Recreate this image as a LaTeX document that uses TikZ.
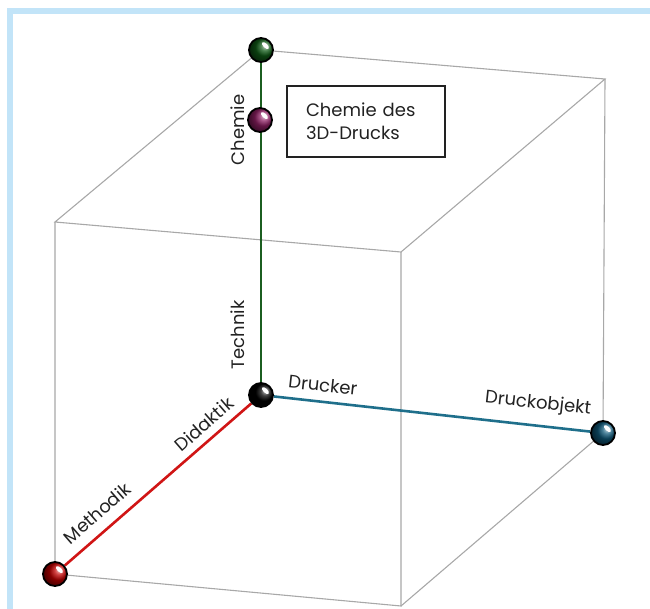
\documentclass[tikz,border=0pt]{standalone}
\usepackage{fontspec}
\setmainfont{Poppins}
\usetikzlibrary{backgrounds}
\definecolor{cubegray}{HTML}{A8A8A8}
\definecolor{framebl}{HTML}{C2E4F8}
\definecolor{axgreen}{HTML}{1B5E20}
\definecolor{axred}{HTML}{D01515}
\definecolor{axblue}{HTML}{1F6F8B}
\definecolor{ballgreen}{HTML}{0F5A16}
\definecolor{ballplum}{HTML}{8E1F63}
\definecolor{ballred}{HTML}{C00000}
\definecolor{ballblue}{HTML}{0F5878}
\definecolor{ink}{HTML}{222222}
\begin{document}
\begin{tikzpicture}[x=1pt, y=-1pt,
  edge/.style={draw=cubegray, line width=1.1pt},
  axis/.style={line width=2.6pt},
  orb/.style={circle, minimum size=24pt, inner sep=0pt, draw=black, line width=1.8pt,
    ball color=#1, shading angle=-90,
    path picture={\fill[white] ([shift={(4.4,-4.4)}]path picture bounding box.center)
      circle [x radius=4.4, y radius=2.1, rotate=-45];}},
  lbl/.style={font=\fontsize{18}{22}\selectfont, text=ink, inner sep=0pt},
  note/.style={draw=ink, line width=1.2pt, font=\fontsize{18}{23}\selectfont, text=ink,
    text width=120pt, inner xsep=19pt, minimum height=71pt, align=left}
]
\useasboundingbox (0,0) rectangle (650,608);
\clip (0,0) rectangle (650,608);

% cube corners that carry no ball
\coordinate (ftl) at (55,222);
\coordinate (ftr) at (401,252);
\coordinate (btr) at (605,79);
\coordinate (fbr) at (401,606);

% balls on the axes
\node[orb=ballgreen] (top)  at (261,50)  {};
\node[orb=ballplum]  (chem) at (260,120) {};
\node[orb=black]     (o)    at (261,395) {};
\node[orb=ballred]   (meth) at (55,574)  {};
\node[orb=ballblue]  (obj)  at (603,433) {};

\begin{pgfonlayer}{background}
  \draw[framebl, line width=6pt] (10,11) rectangle (700,700);
  % visible cube edges
  \draw[edge] (top) -- (ftl) -- (ftr) -- (btr) -- (top);
  \draw[edge] (ftl) -- (meth) -- (fbr) -- (ftr);
  \draw[edge] (btr) -- (obj) -- (fbr);
  % the three axes
  \draw[axis, axgreen] (top) -- (o);
  \draw[axis, axred] (o) -- (meth);
  \draw[axis, axblue] (o) -- (obj);
\end{pgfonlayer}

% axis labels
\node[lbl, rotate=90] (lchem) at (238,130) {Chemie};
\node[lbl, rotate=90] (ltech) at (238,335) {Technik};
\node[lbl, rotate=-6.3] (ldru) at (323,385) {Drucker};
\node[lbl, rotate=-6.3] (lobj) at (538,404) {Druckobjekt};
\node[lbl, rotate=41] (ldid) at (204,424) {Didaktik};
\node[lbl, rotate=41] (lmeth) at (97,513) {Methodik};

% note box
\node[note] (box) at (366,121.5) {Chemie des\\3D-Drucks};
\end{tikzpicture}
\end{document}
